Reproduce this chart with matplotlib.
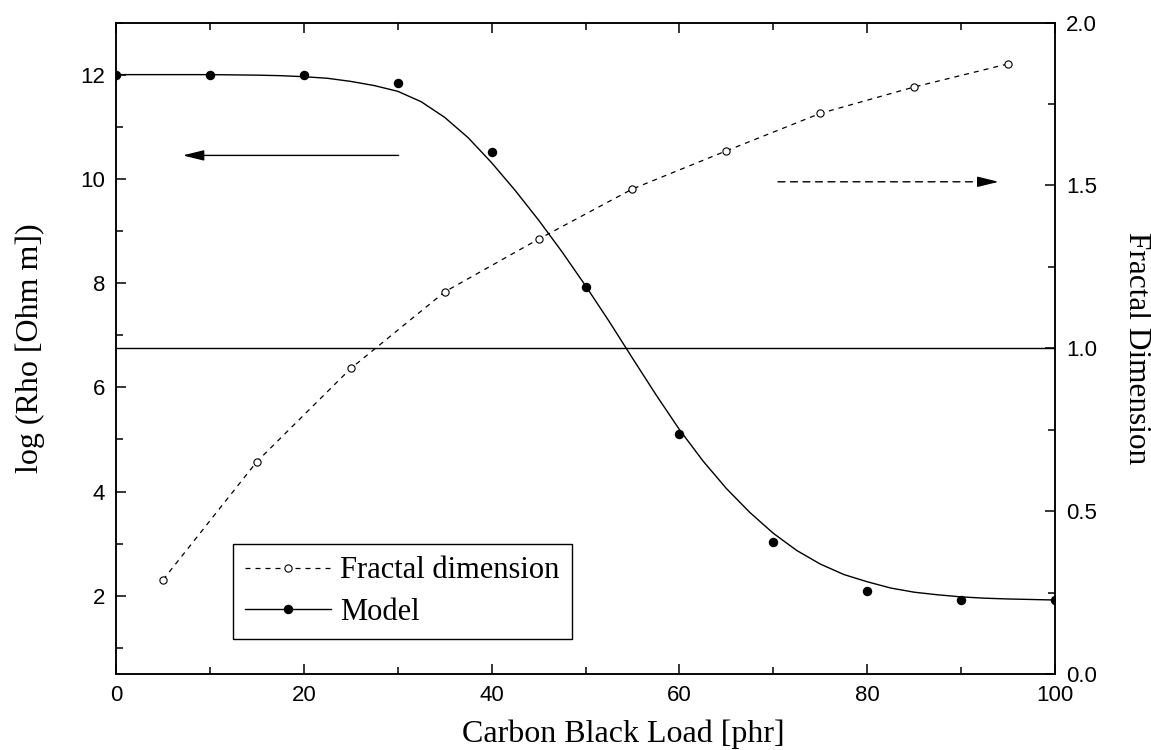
import matplotlib
matplotlib.use('Agg')
import matplotlib.pyplot as plt
from matplotlib.lines import Line2D
from matplotlib.ticker import MultipleLocator, FormatStrFormatter

## measured resistivity points (filled dots)
load_model = [0, 10, 20, 30, 40, 50, 60, 70, 80, 90, 100]
rho_model = [12.0, 12.0, 12.0, 11.83, 10.52, 7.93, 5.10, 3.04, 2.10, 1.92, 1.92]

## model curve
load_curve = [0, 5, 10, 15, 17.5, 20, 22.5, 25, 27.5, 30, 32.5, 35, 37.5, 40,
              42.5, 45, 47.5, 50, 52.5, 55, 57.5, 60, 62.5, 65, 67.5, 70,
              72.5, 75, 77.5, 80, 82.5, 85, 87.5, 90, 92.5, 95, 97.5, 100]
rho_curve = [12.0, 12.0, 12.0, 11.99, 11.98, 11.96, 11.93, 11.87, 11.79, 11.68,
             11.48, 11.18, 10.79, 10.31, 9.78, 9.21, 8.60, 7.95, 7.27, 6.56,
             5.86, 5.19, 4.59, 4.06, 3.60, 3.20, 2.87, 2.61, 2.41, 2.27,
             2.15, 2.07, 2.02, 1.98, 1.955, 1.94, 1.93, 1.92]

## fractal dimension (open circles, right axis)
load_fractal = [5, 15, 25, 35, 45, 55, 65, 75, 85, 95]
fractal_dim = [0.289, 0.652, 0.938, 1.173, 1.335, 1.489, 1.606, 1.721, 1.802, 1.873]

threshold = 1.0

serif = ['Liberation Serif', 'DejaVu Serif']
sans = ['Liberation Sans', 'DejaVu Sans']
plt.rcParams['font.family'] = sans
plt.rcParams['axes.linewidth'] = 1.1

fig = plt.figure(figsize=(11.51, 7.5), dpi=100)
ax = fig.add_axes([0.1008, 0.1013, 0.8158, 0.8687])
ax2 = ax.twinx()

# left axis: resistivity
ax.plot(load_curve, rho_curve, color='k', lw=1.0)
ax.plot(load_model, rho_model, 'o', color='k', ms=5.8)
ax.set_xlim(0, 100)
ax.set_ylim(0.5, 13.0)

# right axis: fractal dimension
ax2.plot(load_fractal, fractal_dim, color='k', lw=0.9, ls=(0, (4, 4)),
         marker='o', ms=5.2, mfc='white', mec='k', mew=0.8)
ax2.axhline(threshold, color='k', lw=1.0)
ax2.set_ylim(0, 2.0)

# arrows pointing to each axis
head = '-|>,head_length=0.65,head_width=0.16'
ax.annotate('', xy=(7.1, 10.45), xytext=(30.1, 10.45),
            arrowprops=dict(arrowstyle=head, color='k', lw=1.0, mutation_scale=20,
                            shrinkA=0, shrinkB=0))
ax2.annotate('', xy=(92.6, 1.511), xytext=(70.5, 1.511),
             arrowprops=dict(arrowstyle='-', color='k', lw=1.0, ls=(0, (5, 4)),
                             shrinkA=0, shrinkB=0))
ax2.annotate('', xy=(94.0, 1.511), xytext=(92.4, 1.511),
             arrowprops=dict(arrowstyle=head, color='k', lw=1.0, mutation_scale=20,
                             shrinkA=0, shrinkB=0))

# ticks
ax.xaxis.set_major_locator(MultipleLocator(20))
ax.xaxis.set_minor_locator(MultipleLocator(10))
ax.yaxis.set_major_locator(MultipleLocator(2))
ax.yaxis.set_minor_locator(MultipleLocator(1))
ax2.yaxis.set_major_locator(MultipleLocator(0.5))
ax2.yaxis.set_minor_locator(MultipleLocator(0.25))
ax2.yaxis.set_major_formatter(FormatStrFormatter('%.1f'))

ax.tick_params(which='both', direction='in', top=True, right=False, labelsize=16,
               pad=8, width=1.1)
ax.tick_params(which='major', length=7.5)
ax.tick_params(which='minor', length=5)
ax2.tick_params(which='both', direction='in', labelsize=16, pad=8, width=1.1)
ax2.tick_params(which='major', length=7.5)
ax2.tick_params(which='minor', length=5)

# labels
ax.set_xlabel('Carbon Black Load [phr]', fontsize=23, family=serif)
ax.set_ylabel('log (Rho [Ohm m])', fontsize=23, family=serif)
ax2.set_ylabel('Fractal Dimension', fontsize=22.5, family=serif, rotation=270, va='bottom')
ax.yaxis.set_label_coords(-0.076, 0.5)
ax2.yaxis.set_label_coords(1.071, 0.5)
ax.xaxis.set_label_coords(0.54, -0.07)

# legend
handles = [
    Line2D([], [], color='k', lw=0.9, ls=(0, (4, 4)), marker='o', ms=5.2,
           mfc='white', mec='k', mew=0.8),
    Line2D([], [], color='k', lw=1.0, marker='o', ms=5.8),
]
leg = ax.legend(handles, ['Fractal dimension', 'Model'], loc='lower left',
                bbox_to_anchor=(0.2024, 0.1476), bbox_transform=fig.transFigure,
                prop={'family': serif, 'size': 22}, fancybox=False, edgecolor='k',
                framealpha=1, handlelength=2.8, handletextpad=0.3, borderpad=0.4,
                labelspacing=0.42, borderaxespad=0)
leg.get_frame().set_linewidth(1.0)

plt.savefig('out.png', dpi=100)
